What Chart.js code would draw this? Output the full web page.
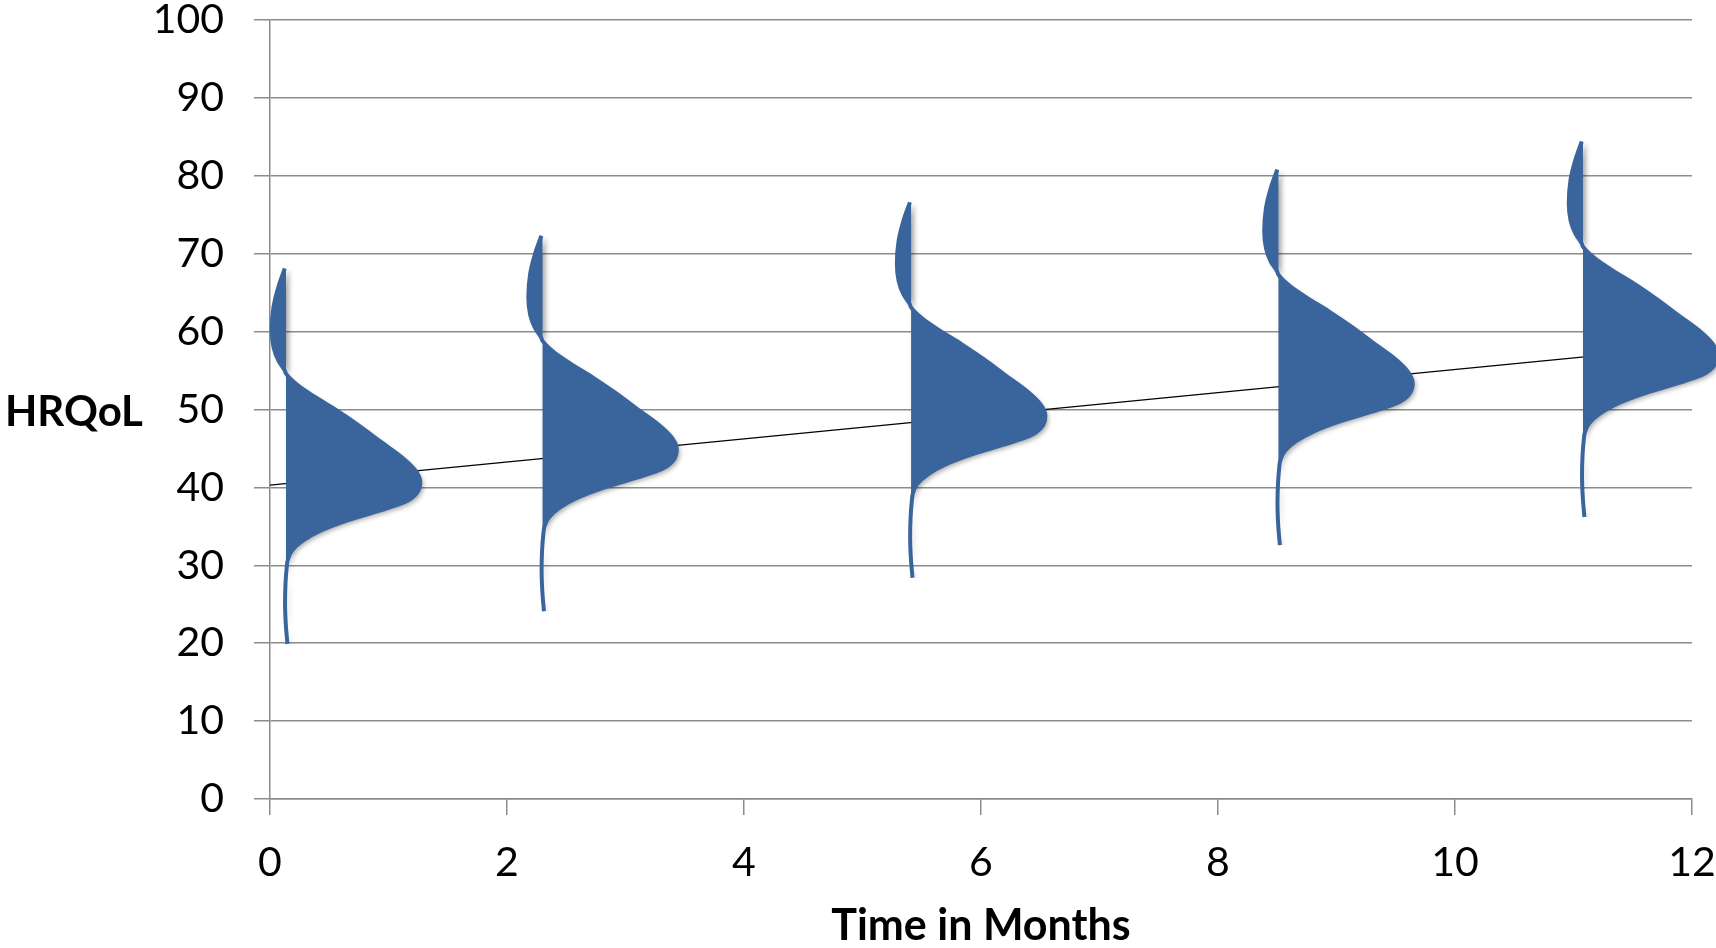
<!DOCTYPE html>
<html>
<head>
<meta charset="utf-8">
<title>HRQoL over time</title>
<script src="https://cdn.jsdelivr.net/npm/chart.js@4.4.1/dist/chart.umd.min.js"></script>
<style>
  html, body { margin: 0; padding: 0; background: #fff; }
  #wrap { width: 1716px; height: 948px; position: relative; }
</style>
</head>
<body>
<div id="wrap"><canvas id="chart"></canvas></div>
<script>
// --- data ---

// axis ticks
const monthTicks = [0, 2, 4, 6, 8, 10, 12];
const scoreTicks = [0, 10, 20, 30, 40, 50, 60, 70, 80, 90, 100];

// each distribution: month of its baseline and its modal HRQoL score
const distMonths = [0.135, 2.30, 5.41, 8.51, 11.08];
const distModes = [40.7, 44.9, 49.2, 53.4, 57.0];

// shared outline of the (copied) density shape:
// score distance from the mode, and how far the curve sits from the baseline (months)
const curveScoreOffset = [27.4, 25.0, 22.5, 19.5, 17.3, 15.6, 14.3, 13.9, 12.4, 10.9, 9.2, 7.3, 5.1, 3.2, 1.5, 0,
  -1.5, -2.6, -3.6, -4.9, -6.2, -7.5, -8.8, -10.0, -11.0, -13.0, -15.5, -18.2, -20.8];
const curveWidth = [-0.01, -0.065, -0.105, -0.12, -0.105, -0.065, -0.01, 0, 0.10, 0.245, 0.425, 0.61, 0.805, 0.975, 1.09, 1.133,
  1.10, 1.00, 0.805, 0.525, 0.30, 0.145, 0.05, 0.015, 0.006, -0.004, -0.008, -0.002, 0.012];

// thin trend line behind the shapes
const trendMonths = [0, 12];
const trendScores = [40.3, 58.1];

// --- styles ---
const BLUE = '#3a649c';
const GRID = '#8c8c8c';
const FONT = 'Lato';

const distDatasets = distMonths.map((m, i) => ({
  label: 'Month ' + m,
  data: curveScoreOffset.map((d, k) => ({ x: m + curveWidth[k], y: distModes[i] + d })),
  borderColor: BLUE,
  backgroundColor: BLUE,
  borderWidth: 4,
  fill: { value: m },
  cubicInterpolationMode: 'monotone',
  capBezierPoints: false,
  pointRadius: 0,
  clip: false,
  order: 0
}));

const trendDataset = {
  label: 'Trend',
  data: trendMonths.map((m, i) => ({ x: m, y: trendScores[i] })),
  borderColor: '#000',
  borderWidth: 1.2,
  fill: false,
  pointRadius: 0,
  order: 1
};
const TREND_INDEX = distDatasets.length;

function setShadow(ctx, on) {
  ctx.shadowColor = on ? 'rgba(0,0,0,0.35)' : 'rgba(0,0,0,0)';
  ctx.shadowBlur = on ? 5 : 0;
  ctx.shadowOffsetX = on ? 3 : 0;
  ctx.shadowOffsetY = on ? 3 : 0;
}

// shapes may run past the right end of the axis; their fills cast a soft shadow
// (the filler paints in its own beforeDatasetDraw, which runs before ours)
const shapePlugin = {
  id: 'shapePlugin',
  beforeDatasetsDraw(chart) {
    chart.$savedRight = chart.chartArea.right;
    chart.chartArea.right = chart.width;
  },
  beforeDatasetDraw(chart) {
    setShadow(chart.ctx, false);
  },
  afterDatasetDraw(chart) {
    setShadow(chart.ctx, true);
  },
  afterDatasetsDraw(chart) {
    chart.chartArea.right = chart.$savedRight;
    setShadow(chart.ctx, false);
  }
};

// horizontal y-axis title at the far left
const yTitlePlugin = {
  id: 'yTitle',
  afterDraw(chart) {
    const { ctx, chartArea } = chart;
    ctx.save();
    ctx.font = 'bold 42px ' + FONT;
    ctx.fillStyle = '#000';
    ctx.textAlign = 'left';
    ctx.textBaseline = 'middle';
    ctx.fillText('HRQoL', 5, (chartArea.top + chartArea.bottom) / 2 + 3);
    ctx.restore();
  }
};

new Chart(document.getElementById('chart'), {
  type: 'line',
  data: { datasets: [...distDatasets, trendDataset] },
  options: {
    indexAxis: 'y',
    responsive: true,
    maintainAspectRatio: false,
    animation: false,
    events: [],
    layout: { padding: { top: 20, right: 24, bottom: 0, left: 0 } },
    plugins: { legend: { display: false }, tooltip: { enabled: false } },
    scales: {
      x: {
        type: 'linear',
        position: 'bottom',
        min: 0,
        max: 12,
        afterBuildTicks: s => { s.ticks = monthTicks.map(v => ({ value: v })); },
        afterFit: s => { s.height = 149; s.paddingLeft = 0; s.paddingRight = 0; },
        grid: { drawOnChartArea: false, drawTicks: true, tickLength: 16, color: GRID, lineWidth: 1.5 },
        border: { color: GRID, width: 1.5 },
        ticks: { font: { family: FONT, size: 41 }, color: '#000', padding: 23, maxRotation: 0, autoSkip: false },
        title: {
          display: true,
          text: 'Time in Months',
          color: '#000',
          font: { family: FONT, size: 43, weight: 'bold', lineHeight: 1.0 },
          padding: 0
        }
      },
      y: {
        type: 'linear',
        position: 'left',
        min: 0,
        max: 100,
        afterBuildTicks: s => { s.ticks = scoreTicks.map(v => ({ value: v })); },
        afterFit: s => { s.width = 270; s.paddingTop = 0; s.paddingBottom = 0; },
        grid: { color: GRID, lineWidth: 1.5, tickLength: 16 },
        border: { color: GRID, width: 1.5 },
        ticks: { font: { family: FONT, size: 41 }, color: '#000', padding: 30, autoSkip: false }
      }
    }
  },
  plugins: [shapePlugin, yTitlePlugin]
});
</script>
</body>
</html>
